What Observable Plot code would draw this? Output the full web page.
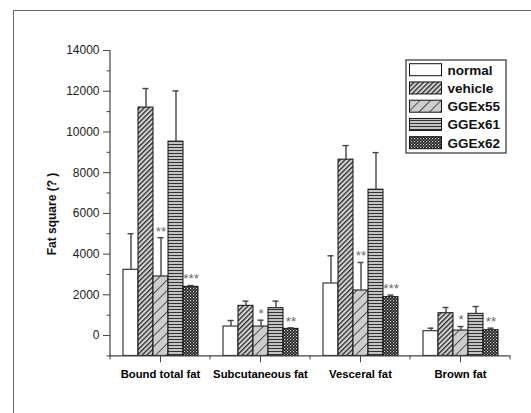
<!DOCTYPE html>
<html>
<head>
<meta charset="utf-8">
<script src="https://cdn.jsdelivr.net/npm/d3@7"></script>
<script src="https://cdn.jsdelivr.net/npm/@observablehq/plot@0.6"></script>
<style>
html, body { margin: 0; padding: 0; background: #fff; }
#chart { position: relative; width: 531px; height: 413px; overflow: hidden; }
#chart .border { position: absolute; left: 13px; top: 10px; width: 600px; height: 600px;
  border-top: 1px solid #666; border-left: 1px solid #666; pointer-events: none; }
</style>
</head>
<body>
<div id="chart"><div class="border"></div></div>
<script>
// ---- data ----
const categories = ["Bound total fat", "Subcutaneous fat", "Vesceral fat", "Brown fat"];
const series = ["normal", "vehicle", "GGEx55", "GGEx61", "GGEx62"];
const means = {
  normal: [3230, 443, 2557, 211],
  vehicle: [11197, 1459, 8640, 1097],
  GGEx55: [2902, 443, 2213, 246],
  GGEx61: [9524, 1344, 7164, 1066],
  GGEx62: [2393, 328, 1885, 262]
};
const errors = {
  normal: [1770, 295, 1360, 150],
  vehicle: [935, 230, 690, 280],
  GGEx55: [1900, 310, 1375, 195],
  GGEx61: [2490, 345, 1820, 360],
  GGEx62: [65, 50, 100, 100]
};
const stars = {
  GGEx55: ["**", "*", "**", "*"],
  GGEx62: ["***", "**", "***", "**"]
};
const yDomain = [-1000, 14000];
const majorTicks = [0, 2000, 4000, 6000, 8000, 10000, 12000, 14000];
const minorTicks = [-1000, 1000, 3000, 5000, 7000, 9000, 11000, 13000];
const yLabel = "Fat square (? )";
const fills = ["white", "url(#p-vehicle)", "url(#p-g55)", "url(#p-g61)", "url(#p-g62)"];

const rows = [];
series.forEach(s => categories.forEach((c, i) => {
  rows.push({cat: c, series: s, value: means[s][i], top: means[s][i] + errors[s][i],
             star: stars[s] ? stars[s][i] : ""});
}));
const starRows = rows.filter(d => d.star);

const font = "'Liberation Sans', Arial, sans-serif";

const plot = Plot.plot({
  width: 531, height: 413,
  marginLeft: 109, marginRight: 20, marginTop: 50, marginBottom: 57.6,
  style: {fontFamily: font, background: "transparent", color: "#222", overflow: "visible"},
  fx: {domain: categories, padding: 0, label: null},
  x: {domain: series, paddingInner: 0, paddingOuter: 0.64, axis: null},
  y: {domain: yDomain, axis: null},
  color: {domain: series, range: fills},
  marks: [
    Plot.barY(rows, {fx: "cat", x: "series", y1: () => yDomain[0], y2: "value",
      fill: "series", stroke: "#111", strokeWidth: 1}),
    Plot.ruleX(rows, {fx: "cat", x: "series", y1: "value", y2: "top", stroke: "#444", strokeWidth: 1.4}),
    Plot.tickY(rows, {fx: "cat", x: "series", y: "top", stroke: "#444", strokeWidth: 1.4,
      insetLeft: 4.5, insetRight: 4.5}),
    Plot.text(starRows, {fx: "cat", x: "series", y: "top", text: "star", dy: -6.5,
      fontSize: 13.5, fill: "#666"}),
    Plot.ruleY([yDomain[0]], {stroke: "#444", strokeWidth: 1.2}),
    Plot.axisY({ticks: majorTicks, tickSize: 7, tickPadding: 4, fontSize: 12, label: null,
      stroke: "#444", fill: "#222", tickFormat: d => String(d)}),
    Plot.axisY({ticks: minorTicks, tickSize: 3.5, label: null, stroke: "#444", tickFormat: () => ""}),
    Plot.axisFx({anchor: "bottom", tickSize: 7, tickPadding: 7, fontSize: 11.3, fontWeight: "bold",
      label: null, stroke: "#444", fill: "#000"})
  ]
});

const svg = d3.select(plot);
// patterns
const defs = svg.insert("defs", ":first-child");
let p = defs.append("pattern").attr("id", "p-vehicle").attr("patternUnits", "userSpaceOnUse")
  .attr("width", 3.4).attr("height", 3.4).attr("patternTransform", "rotate(45)");
p.append("rect").attr("width", 3.4).attr("height", 3.4).attr("fill", "#d4d4d4");
p.append("rect").attr("width", 1.3).attr("height", 3.4).attr("fill", "#2a2a2a");

p = defs.append("pattern").attr("id", "p-g55").attr("patternUnits", "userSpaceOnUse")
  .attr("width", 7.5).attr("height", 7.5).attr("patternTransform", "rotate(45)");
p.append("rect").attr("width", 7.5).attr("height", 7.5).attr("fill", "#cdcdcd");
p.append("rect").attr("width", 0.9).attr("height", 7.5).attr("fill", "#444");

p = defs.append("pattern").attr("id", "p-g61").attr("patternUnits", "userSpaceOnUse")
  .attr("width", 4).attr("height", 3);
p.append("rect").attr("width", 4).attr("height", 3).attr("fill", "#c4c4c4");
p.append("rect").attr("width", 4).attr("height", 1).attr("fill", "#333");

p = defs.append("pattern").attr("id", "p-g62").attr("patternUnits", "userSpaceOnUse")
  .attr("width", 3).attr("height", 3);
p.append("rect").attr("width", 3).attr("height", 3).attr("fill", "#1c1c1c");
p.append("rect").attr("width", 1.2).attr("height", 1.2).attr("fill", "#d8d8d8");
p.append("rect").attr("x", 1.5).attr("y", 1.5).attr("width", 1.2).attr("height", 1.2).attr("fill", "#b0b0b0");

// y axis line and minor x ticks from the plot's scales
const y = plot.scale("y");
const fx = plot.scale("fx");
const x0 = fx.apply(categories[0]);
const yBottom = y.apply(yDomain[0]);
svg.append("line").attr("x1", x0).attr("x2", x0)
  .attr("y1", y.apply(yDomain[1])).attr("y2", yBottom + 0.6)
  .attr("stroke", "#444").attr("stroke-width", 1.2);
const bounds = categories.map(c => fx.apply(c)).concat([fx.apply(categories[3]) + fx.bandwidth]);
bounds.forEach(b => svg.append("line").attr("x1", b).attr("x2", b)
  .attr("y1", yBottom).attr("y2", yBottom + 4).attr("stroke", "#444"));

// y label
svg.append("text").attr("transform", "translate(56,214) rotate(-90)")
  .attr("text-anchor", "middle").attr("font-family", font).attr("font-size", 12)
  .attr("font-weight", "bold").attr("fill", "#111").text(yLabel);

// legend
const lg = svg.append("g").attr("font-family", font).attr("text-anchor", "start");
lg.append("rect").attr("x", 406).attr("y", 60).attr("width", 100).attr("height", 93)
  .attr("fill", "white").attr("stroke", "#333").attr("stroke-width", 1.2);
series.forEach((s, i) => {
  const cy = 69.7 + i * 18.25;
  lg.append("rect").attr("x", 409.5).attr("y", cy - 6).attr("width", 32).attr("height", 12)
    .attr("fill", fills[i]).attr("stroke", "#111");
  lg.append("text").attr("x", 447.5).attr("y", cy + 5).attr("font-size", 13.5)
    .attr("text-anchor", "start")
    .attr("font-weight", "bold").attr("fill", "#111").text(s);
});

document.getElementById("chart").appendChild(plot);
plot.style.position = "absolute";
plot.style.left = "0";
plot.style.top = "0";
</script>
</body>
</html>
